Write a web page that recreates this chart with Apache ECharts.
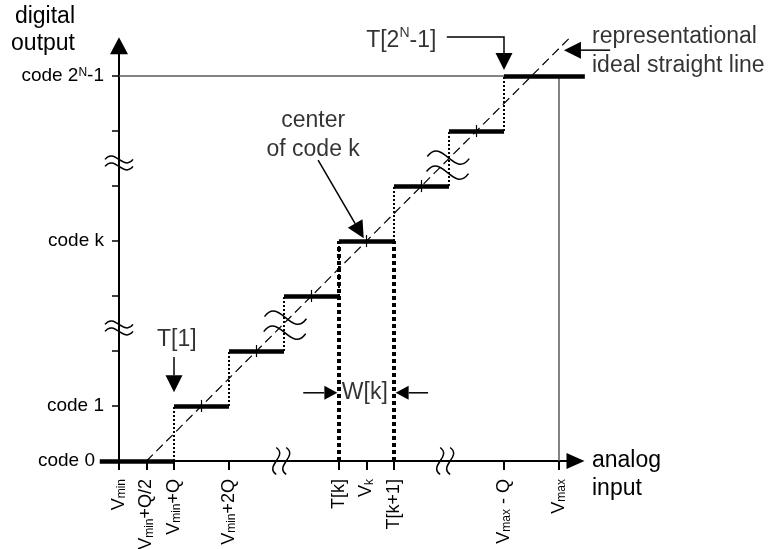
<!DOCTYPE html>
<html>
<head>
<meta charset="utf-8">
<script src="https://cdn.jsdelivr.net/npm/echarts@6/dist/echarts.min.js"></script>
<style>
  html, body { margin: 0; padding: 0; background: #fff; }
  #main { width: 769px; height: 549px; }
</style>
</head>
<body>
<div id="main"></div>
<script>
// x in units of Q above Vmin, y in output codes
var stepCode = [0, 1, 2, 3, 4, 5, 6, 7]
var stepFrom = [-0.35, 1, 2, 3, 4, 5, 6, 7]
var stepTo = [1, 2, 3, 4, 5, 6, 7, 8.47]
var transitionX = [1, 2, 3, 4, 5, 6, 7] // T[1] ... T[2^N-1]
var widthEdges = [4, 5] // T[k], T[k+1]
var centerX = [1.5, 2.5, 3.5, 4.5, 5.5, 6.5]
var idealLine = [[0.5, 0], [8.2, 7.7]]
var topCode = 7
var vmax = 8

var xTickValues = [0, 0.5, 1, 2, 4, 4.5, 5, 7, 8]
var xTickLabels = ['V{s|min}', 'V{s|min}+Q/2', 'V{s|min}+Q', 'V{s|min}+2Q', 'T[k]', 'V{s|k}', 'T[k+1]', 'V{s|max} - Q', 'V{s|max}']
var yTickValues = [0, 1, 2, 3, 4, 5, 6, 7]
var yLabelValues = [0, 1, 4, 7]
var yTickLabels = ['{c0|code 0}', 'code 1', 'code k', 'code 2{p|N}-1']

var xBreaks = [2.95, 5.93]
var yBreaks = [2.42, 5.42]
var stairBreaks = [[3.02, 2.47], [5.98, 5.38]]

// annotation arrows, last point is the tip
var arrows = [
  [[1, 1.89], [1, 1.25]],
  [[5.96, 7.71], [7, 7.71], [7, 7.11]],
  [[8.93, 7.47], [8.09, 7.47]],
  [[3.62, 5.47], [4.45, 4.05]]
]
var widthArrows = [
  [[3.35, 1.24], [3.97, 1.24]],
  [[5.62, 1.24], [5.03, 1.24]]
]
var noteText = ['T[1]', 'T[2{p|N}-1]', 'representational\nideal straight line', 'center\nof code k', 'W[k]']
var notePos = [[1.05, 2.2], [5.77, 7.65], [8.6, 7.45], [3.53, 5.93], [4.47, 1.24]]

var font = 'Liberation Sans, Arial, sans-serif'
var chart = echarts.init(document.getElementById('main'))

function seg (a, b) {
  return { coords: [a, b] }
}

function arrowRender (list, head) {
  return function (params, api) {
    var pts = list[params.dataIndex].map(function (p) { return api.coord(p) })
    var tip = pts[pts.length - 1]
    var prev = pts[pts.length - 2]
    var dx = tip[0] - prev[0]
    var dy = tip[1] - prev[1]
    var len = Math.sqrt(dx * dx + dy * dy)
    var ux = dx / len
    var uy = dy / len
    var bx = tip[0] - ux * head[0]
    var by = tip[1] - uy * head[0]
    var half = head[1] / 2
    return {
      type: 'group',
      children: [
        { type: 'polyline', shape: { points: pts.slice(0, -1).concat([[bx, by]]) }, style: { stroke: '#000', lineWidth: 1.5, fill: null } },
        { type: 'polygon', shape: { points: [tip, [bx - uy * half, by + ux * half], [bx + uy * half, by - ux * half]] }, style: { fill: '#000' } }
      ]
    }
  }
}

function tilde (w, a, gap) {
  var k = 3.46 * a
  return [-gap / 2, gap / 2].map(function (off) {
    return {
      type: 'bezierCurve',
      shape: { x1: -w / 2, y1: off, cpx1: -w / 6, cpy1: off - k, cpx2: w / 6, cpy2: off + k, x2: w / 2, y2: off },
      style: { stroke: '#000', lineWidth: 1.5, fill: null }
    }
  })
}

var breakData = []
xBreaks.forEach(function (x) { breakData.push([x, 0, 0]) })
yBreaks.forEach(function (y) { breakData.push([0, y, 1]) })
stairBreaks.forEach(function (p) { breakData.push([p[0], p[1], 2]) })

chart.setOption({
  animation: false,
  textStyle: { fontFamily: font },
  grid: { left: 119, right: 193.5, top: 45.75, bottom: 88, containLabel: false, outerBoundsMode: 'none' },
  xAxis: {
    type: 'value',
    min: 0,
    max: 8.3,
    name: '\nanalog\ninput',
    nameLocation: 'end',
    nameGap: 16.5,
    nameTextStyle: { fontSize: 23, color: '#000', align: 'left', verticalAlign: 'middle', lineHeight: 28 },
    axisLine: { lineStyle: { color: '#000', width: 2 }, symbol: ['none', 'triangle'], symbolSize: [16, 18] },
    axisTick: { show: true, customValues: xTickValues, length: 9, lineStyle: { color: '#000', width: 2 } },
    axisLabel: {
      customValues: xTickValues,
      rotate: 90,
      margin: 18,
      fontSize: 18,
      color: '#000',
      formatter: function (v) { return xTickLabels[xTickValues.indexOf(v)] },
      rich: { s: { fontSize: 12, color: '#000', verticalAlign: 'bottom', lineHeight: 10 } }
    },
    splitLine: { show: false }
  },
  yAxis: {
    type: 'value',
    min: 0,
    max: 7.55,
    name: 'digital\noutput',
    nameLocation: 'end',
    nameGap: -11.75,
    nameTextStyle: { fontSize: 23, color: '#000', align: 'right', verticalAlign: 'bottom', lineHeight: 27, padding: [0, 44, 0, 0] },
    axisLine: { lineStyle: { color: '#000', width: 2 }, symbol: ['none', 'triangle'], symbolSize: [18, 17] },
    axisTick: { show: true, customValues: yTickValues, length: 7, lineStyle: { color: '#000', width: 1.5 } },
    axisLabel: {
      customValues: yTickValues,
      margin: 15,
      fontSize: 19,
      color: '#000',
      formatter: function (v) {
        var i = yLabelValues.indexOf(v)
        return i < 0 ? '' : yTickLabels[i]
      },
      rich: {
        c0: { fontSize: 19, color: '#000', padding: [0, 9, 0, 0] },
        p: { fontSize: 12, color: '#000', verticalAlign: 'top', lineHeight: 10 }
      }
    },
    splitLine: { show: false }
  },
  series: [
    {
      name: 'full scale',
      type: 'lines',
      coordinateSystem: 'cartesian2d',
      clip: false,
      silent: true,
      lineStyle: { color: '#5a5a5a', width: 1.5, opacity: 1 },
      data: [seg([0, topCode], [transitionX[transitionX.length - 1], topCode]), seg([vmax, 0], [vmax, topCode])]
    },
    {
      name: 'ideal line',
      type: 'line',
      clip: false,
      silent: true,
      showSymbol: false,
      lineStyle: { color: '#000', width: 1.2, type: [9, 5] },
      data: idealLine
    },
    {
      name: 'risers',
      type: 'lines',
      coordinateSystem: 'cartesian2d',
      clip: false,
      silent: true,
      lineStyle: { color: '#000', width: 2, type: [2, 2], opacity: 1 },
      data: transitionX.map(function (x) { return seg([x, x - 1], [x, x]) })
    },
    {
      name: 'code width',
      type: 'lines',
      coordinateSystem: 'cartesian2d',
      clip: false,
      silent: true,
      lineStyle: { color: '#000', width: 4, type: [4, 3], opacity: 1 },
      data: widthEdges.map(function (x) { return seg([x, 0], [x, stepCode[widthEdges[0]]]) })
    },
    {
      name: 'steps',
      type: 'lines',
      coordinateSystem: 'cartesian2d',
      clip: false,
      silent: true,
      lineStyle: { color: '#000', width: 4.5, opacity: 1 },
      data: stepCode.map(function (c, i) { return seg([stepFrom[i], c], [stepTo[i], c]) })
    },
    {
      name: 'centers',
      type: 'lines',
      coordinateSystem: 'cartesian2d',
      clip: false,
      silent: true,
      lineStyle: { color: '#000', width: 1.2, opacity: 1 },
      data: centerX.map(function (x) { return seg([x, x - 0.5 - 0.11], [x, x - 0.5 + 0.11]) })
    },
    {
      name: 'breaks',
      type: 'custom',
      silent: true,
      data: breakData,
      renderItem: function (params, api) {
        var p = api.coord([api.value(0), api.value(1)])
        var kind = api.value(2)
        var shape = kind === 0 ? { w: 27, a: 3.5, gap: 10, rot: Math.PI / 2 }
          : kind === 1 ? { w: 28, a: 3.5, gap: 7, rot: 0 }
            : { w: 42, a: 6, gap: 15, rot: -0.05 }
        return { type: 'group', x: p[0], y: p[1], rotation: shape.rot, children: tilde(shape.w, shape.a, shape.gap) }
      }
    },
    {
      name: 'arrows',
      type: 'custom',
      silent: true,
      data: arrows.map(function (a) { return a[a.length - 1] }),
      renderItem: arrowRender(arrows, [17, 17])
    },
    {
      name: 'width arrows',
      type: 'custom',
      silent: true,
      data: widthArrows.map(function (a) { return a[a.length - 1] }),
      renderItem: arrowRender(widthArrows, [13, 14])
    },
    {
      name: 'notes',
      type: 'scatter',
      clip: false,
      silent: true,
      symbolSize: 0,
      data: noteText.map(function (t, i) {
        var align = i === 1 ? 'right' : i === 2 ? 'left' : 'center'
        return { value: notePos[i], label: { formatter: function () { return t }, align: align } }
      }),
      label: {
        show: true,
        position: 'inside',
        fontSize: 23,
        color: '#000',
        lineHeight: 29,
        rich: { p: { fontSize: 14, color: '#000', verticalAlign: 'top', lineHeight: 12 } }
      }
    }
  ]
})
</script>
</body>
</html>
